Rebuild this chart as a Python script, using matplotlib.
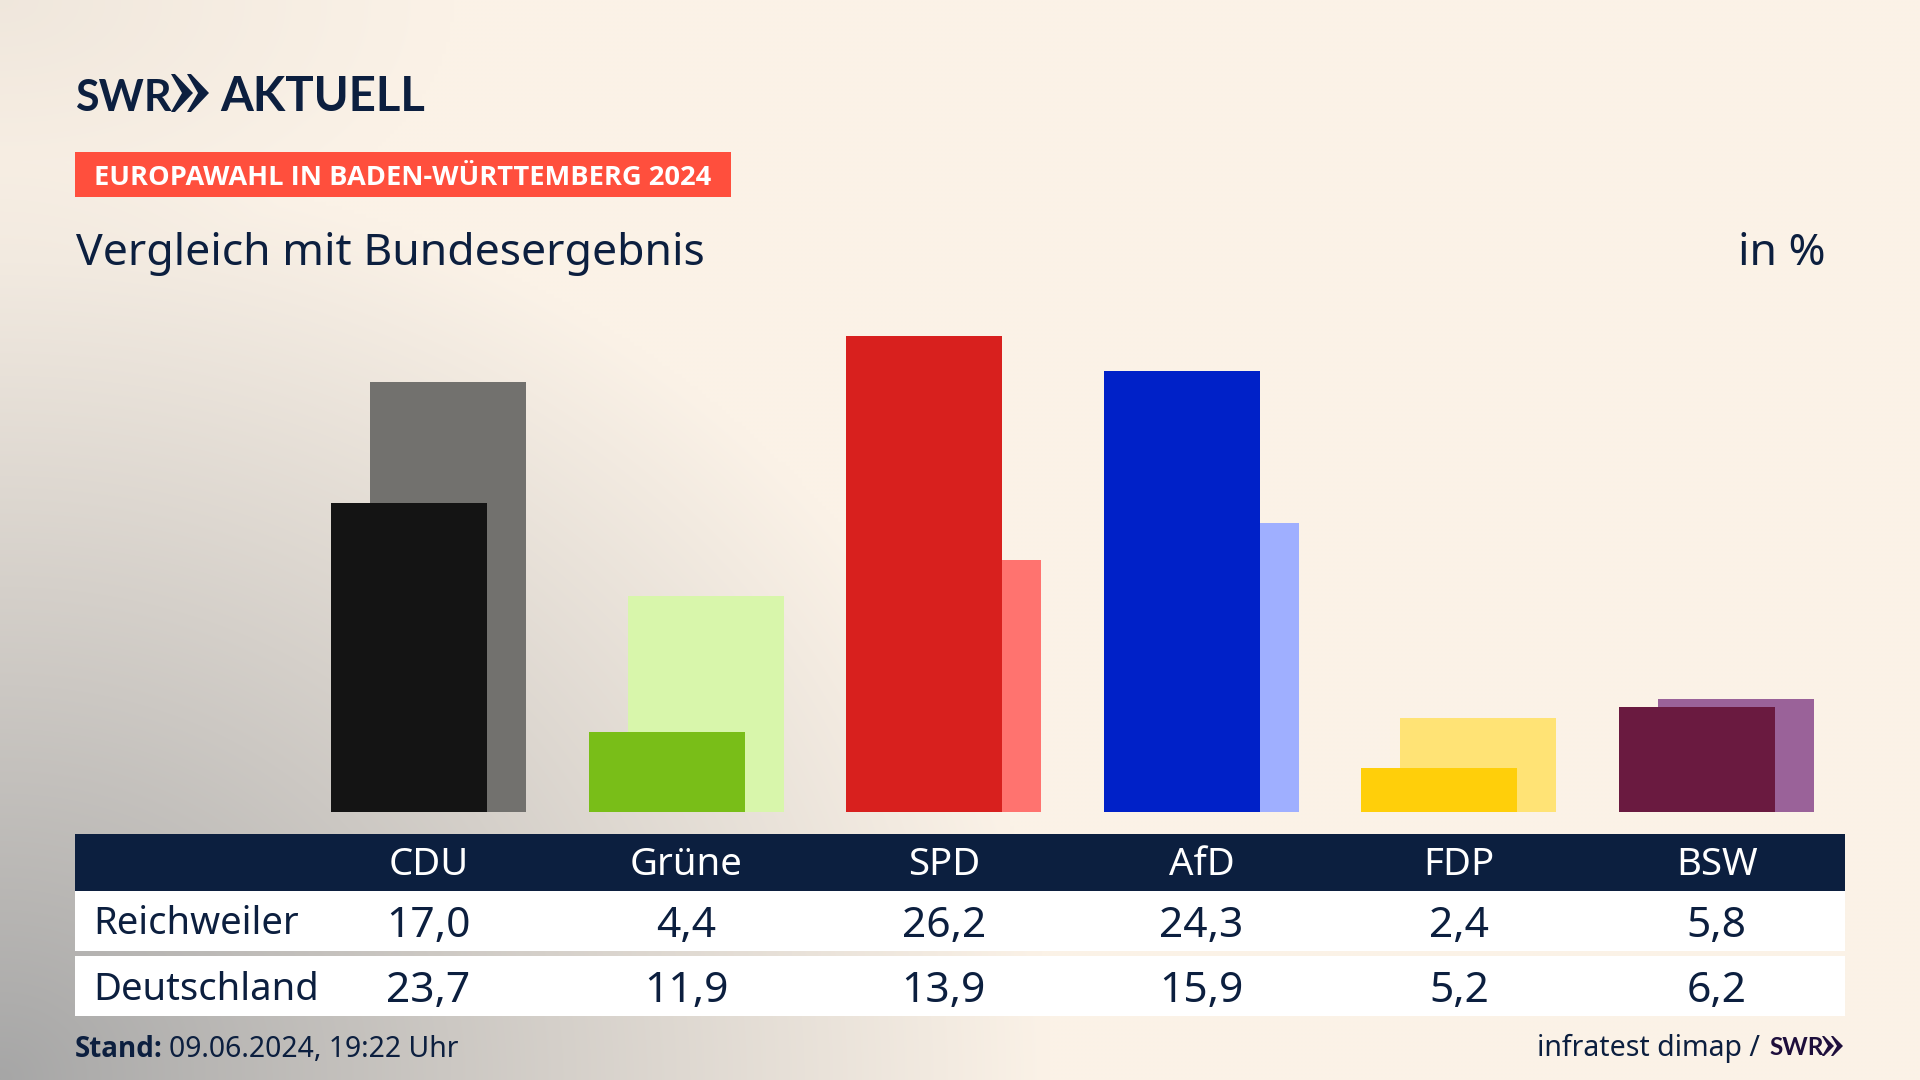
import numpy as np
import matplotlib
matplotlib.use("Agg")
import matplotlib.pyplot as plt
from matplotlib.patches import Rectangle, Polygon

parties = ["CDU", "Grüne", "SPD", "AfD", "FDP", "BSW"]
reichweiler = [17.0, 4.4, 26.2, 24.3, 2.4, 5.8]
deutschland = [23.7, 11.9, 13.9, 15.9, 5.2, 6.2]
colors_front = ["#141414", "#79BE18", "#D8201E", "#0021C8", "#FFCF0A", "#6A1A40"]
colors_back = ["#72716E", "#D8F6AB", "#FF736F", "#9FAFFF", "#FFE375", "#9A6299"]
row_names = ["Reichweiler", "Deutschland"]

W, H = 1920, 1080
NAVY = "#0C1F3F"
FONT = "Noto Sans"
BOLD = "Open Sans"
LOGO = "Lato"
plt.rcParams["font.family"] = FONT

def fmt(v):
    return f"{v:.1f}".replace(".", ",")

fig = plt.figure(figsize=(W / 100, H / 100), dpi=100)

bg = fig.add_axes([0, 0, 1, 1], zorder=0)
bg.set_xlim(0, W)
bg.set_ylim(H, 0)
bg.axis("off")
yy, xx = np.mgrid[0:H:270j, 0:W:480j]
d = np.sqrt((xx / 1050) ** 2 + ((H - yy) / 920) ** 2)
t = np.clip(d, 0, 1) ** 0.95
t2 = np.clip(np.sqrt((xx / 450) ** 2 + (yy / 260) ** 2), 0, 1)
c0 = np.array([0xA6, 0xA6, 0xA6]) / 255
c1 = np.array([0xFB, 0xF2, 0xE7]) / 255
img = c0[None, None, :] * (1 - t[..., None]) + c1[None, None, :] * t[..., None]
img = img * (0.955 + 0.045 * t2[..., None])
bg.imshow(img, extent=(0, W, H, 0), aspect="auto", interpolation="bilinear", zorder=0)

# bars
px_u = 257.6
left = 428.5 - px_u / 2
px_val = 18.16
ax = fig.add_axes([left / W, (H - 812) / H, 6 * px_u / W, 545 / H], zorder=1)
ax.patch.set_alpha(0)
ax.set_xlim(-0.5, 5.5)
ax.set_ylim(0, 545 / px_val)
ax.axis("off")
x = np.arange(len(parties))
off = 19.5 / px_u
wid = 156 / px_u
ax.bar(x + off, deutschland, wid, color=colors_back, zorder=1)
ax.bar(x - off, reichweiler, wid, color=colors_front, zorder=2)

ov = fig.add_axes([0, 0, 1, 1], zorder=2)
ov.patch.set_alpha(0)
ov.set_xlim(0, W)
ov.set_ylim(H, 0)
ov.axis("off")

def chevrons(x0, y0, h, w, color, gap):
    for k in range(2):
        xs = x0 + k * gap
        ov.add_patch(Polygon([(xs, y0), (xs + w * 0.18, y0), (xs + w, y0 + h / 2),
                              (xs + w * 0.18, y0 + h), (xs, y0 + h), (xs + w * 0.5, y0 + h / 2)],
                             closed=True, fc=color, ec="none"))

# logo
ov.text(75, 111, "SWR", fontsize=31, fontweight="bold", color=NAVY, va="baseline", ha="left",
        family=LOGO)
chevrons(171, 74, 38, 22, NAVY, 16)
ov.text(220, 111, "AKTUELL", fontsize=34, fontweight="bold", color=NAVY, va="baseline", ha="left",
        family=LOGO)

# badge
ov.add_patch(Rectangle((75, 152), 656, 45, fc="#FF4F3D", ec="none"))
ov.text(94, 185, "EUROPAWAHL IN BADEN-WÜRTTEMBERG 2024", fontsize=19.6, fontweight="bold",
        color="white", va="baseline", ha="left", family=BOLD)

# title
ov.text(75.5, 265, "Vergleich mit Bundesergebnis", fontsize=32.1, color=NAVY, va="baseline", ha="left")
ov.text(1826, 265, "in %", fontsize=32.1, color=NAVY, va="baseline", ha="right")

# table
ov.add_patch(Rectangle((75, 834), 1770, 57, fc=NAVY, ec="none"))
ov.add_patch(Rectangle((75, 891), 1770, 60, fc="white", ec="none"))
ov.add_patch(Rectangle((75, 956), 1770, 60, fc="white", ec="none"))
centers = 428.6 + px_u * x
for cx, p in zip(centers, parties):
    ov.text(cx, 875, p, fontsize=27.6, color="white", ha="center", va="baseline")
for base, vbase, name, vals in [(934, 937, row_names[0], reichweiler), (1000, 1002, row_names[1], deutschland)]:
    ov.text(93.5, base, name, fontsize=27.5, color=NAVY, ha="left", va="baseline")
    for cx, v in zip(centers, vals):
        ov.text(cx, vbase, fmt(v), fontsize=30.6, color=NAVY, ha="center", va="baseline")

# footer
ov.text(75, 1057, "Stand:", fontsize=20, fontweight="bold", color=NAVY, ha="left", va="baseline", family=BOLD)
ov.text(169, 1057, "09.06.2024, 19:22 Uhr", fontsize=20.4, color=NAVY, ha="left", va="baseline")
ov.text(1760, 1056, "infratest dimap /", fontsize=20.5, color=NAVY, ha="right", va="baseline")
ov.text(1769, 1055, "SWR", fontsize=17.5, fontweight="bold", color="#1E0F3C", ha="left", va="baseline", family=LOGO)
chevrons(1822, 1036, 20, 12, "#1E0F3C", 9)

fig.savefig("out.png", dpi=100)
